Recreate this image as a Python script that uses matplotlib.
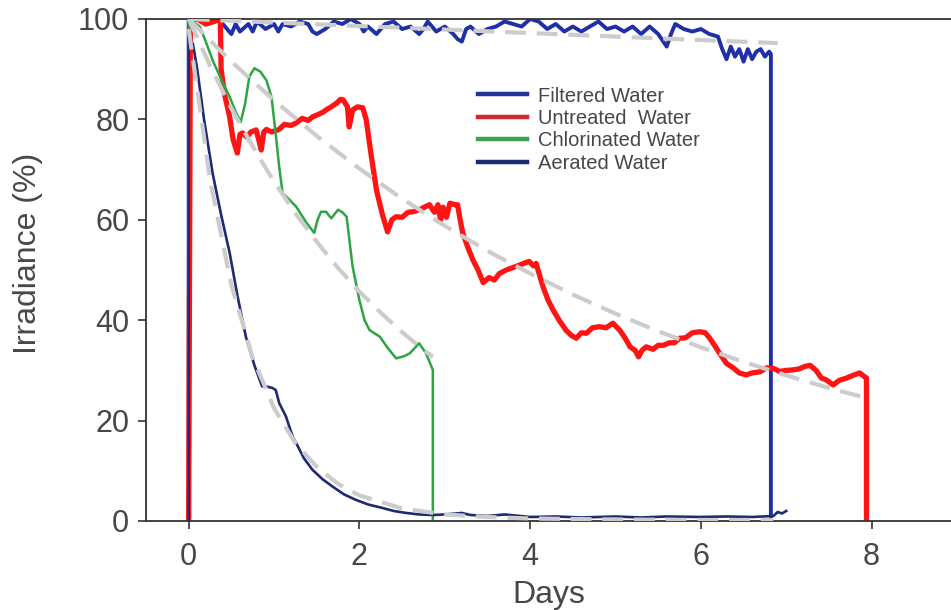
"""Irradiance decay over time for four water treatments, with fitted curves."""
import matplotlib
matplotlib.use("Agg")
import matplotlib.pyplot as plt

# ---- measured traces (days, % irradiance) ----
filtered_days = [0, 0, 0.05, 0.2, 0.35, 0.45, 0.5, 0.55, 0.6, 0.7, 0.75, 0.8, 0.9, 1.0, 1.05,
                 1.1, 1.2, 1.3, 1.4, 1.45, 1.5, 1.6, 1.7, 1.8, 1.9, 2.0, 2.05, 2.1, 2.2,
                 2.3, 2.4, 2.5, 2.6, 2.7, 2.75, 2.8, 2.9, 3.0, 3.1, 3.15, 3.2, 3.25, 3.3,
                 3.4, 3.5, 3.6, 3.7, 3.8, 3.9, 4.0, 4.1, 4.2, 4.3, 4.4, 4.5, 4.6, 4.7,
                 4.8, 4.9, 5.0, 5.1, 5.2, 5.3, 5.4, 5.5, 5.6, 5.65, 5.7, 5.8, 5.9, 6.0,
                 6.1, 6.2, 6.25, 6.3, 6.35, 6.4, 6.45, 6.5, 6.55, 6.6, 6.65, 6.7, 6.75,
                 6.8, 6.82, 6.82]
filtered_vals = [0, 100, 100, 100, 100, 98, 97, 99, 97.5, 99, 97.5, 99.5, 98, 99, 97.5,
                 99, 98.5, 99.5, 99, 97.5, 97, 98, 99.5, 99, 100, 99, 97.5, 98.5, 97,
                 99, 99.5, 98, 98.5, 97, 98, 99.5, 97.5, 98.5, 97, 96, 95.5, 98, 98.5,
                 97, 98, 98.5, 99.5, 99, 98.5, 100, 99.5, 98, 99, 97.5, 98.5, 97.5, 98.5,
                 99.5, 98, 98.5, 97.5, 98.5, 97, 98.5, 97, 94.5, 97, 99, 98, 97.5, 98,
                 97, 96.5, 94, 92, 94.5, 92.5, 94, 91.5, 94, 92, 93.5, 94, 92.5,
                 93.5, 93, 0]

untreated_days = [0, 0.02, 0.1, 0.2, 0.3, 0.37, 0.38, 0.42, 0.48, 0.52, 0.57, 0.6, 0.63,
                  0.68, 0.73, 0.79, 0.82, 0.85, 0.88, 0.91, 0.97, 1.06, 1.12, 1.2, 1.26,
                  1.33, 1.4, 1.45, 1.52, 1.58, 1.61, 1.67, 1.73, 1.78, 1.81, 1.86, 1.88,
                  1.92, 1.98, 2.04, 2.08, 2.14, 2.2, 2.27, 2.33, 2.38, 2.43, 2.5, 2.57,
                  2.63, 2.7, 2.76, 2.82, 2.88, 2.92, 2.95, 2.98, 3.02, 3.06, 3.12, 3.15,
                  3.18, 3.21, 3.27, 3.33, 3.39, 3.45, 3.52, 3.58, 3.64, 3.72, 3.8, 3.88,
                  3.95, 3.99, 4.04, 4.07, 4.11, 4.15, 4.21, 4.27, 4.34, 4.42, 4.48, 4.54,
                  4.6, 4.66, 4.73, 4.81, 4.89, 4.97, 5.05, 5.11, 5.17, 5.23, 5.27, 5.31,
                  5.36, 5.44, 5.5, 5.56, 5.63, 5.69, 5.75, 5.82, 5.9, 5.99, 6.05, 6.1,
                  6.16, 6.22, 6.3, 6.38, 6.45, 6.53, 6.6, 6.69, 6.77, 6.85, 6.92, 7.0,
                  7.08, 7.15, 7.22, 7.28, 7.35, 7.41, 7.47, 7.55, 7.62, 7.71, 7.78, 7.86,
                  7.92, 7.94, 7.94]
untreated_vals = [0, 99.5, 100, 99, 99.5, 100, 90, 85, 80.5, 76, 73.3, 77, 77.3,
                  76.5, 77.5, 77.9, 76, 73.9, 77.5, 78, 77.5, 78, 79, 78.8, 79.3,
                  80.2, 79.8, 80.5, 81, 81.5, 81.9, 82.5, 83.2, 84, 83.9, 82.5, 78.5,
                  81.9, 82.5, 82.3, 79.9, 72.6, 65.9, 61, 57.6, 60, 60.6, 60.5, 61.5,
                  61.6, 62, 62.5, 63, 61.5, 63, 60, 62.5, 60.5, 63.3, 63, 63,
                  60, 57.4, 54.5, 52, 50, 47.5, 48.5, 48, 49.3, 50, 50.5, 51,
                  51.5, 51.7, 50.8, 51.3, 49, 46.7, 44, 42, 40, 38, 37, 36.4,
                  37.5, 37.4, 38.5, 38.7, 38.5, 39.4, 38, 36.5, 34.7, 34, 32.7, 34,
                  34.7, 34.2, 35, 35, 35.5, 35.5, 36.4, 36.5, 37.5, 37.7, 37.5, 36.5,
                  35, 33.4, 31.4, 30.5, 29.5, 29.1, 29.5, 29.7, 30.5, 30.4, 29.8, 30,
                  30.1, 30.3, 30.8, 31, 30, 28.5, 28.1, 27.1, 28, 28.5, 29, 29.5,
                  28.7, 28.5, 0]

chlorinated_days = [0, 0, 0.13, 0.2, 0.28, 0.38, 0.48, 0.55, 0.61, 0.66, 0.71, 0.77, 0.84,
                    0.91, 0.97, 1.02, 1.06, 1.1, 1.18, 1.26, 1.32, 1.38, 1.47, 1.51, 1.55,
                    1.61, 1.67, 1.75, 1.8, 1.85, 1.92, 2.0, 2.06, 2.12, 2.24, 2.33, 2.43,
                    2.52, 2.59, 2.65, 2.7, 2.78, 2.86, 2.86]
chlorinated_vals = [0, 100, 98.5, 95.5, 91.8, 88, 84.5, 81.5, 79.5, 83, 88.5, 90.2, 89.5,
                    87.8, 84.5, 77, 70.6, 65.3, 64, 62.6, 61, 59.4, 57.4, 60, 61.6,
                    61.6, 60.3, 62, 61.5, 60.6, 50.7, 44, 40, 38, 36.7, 34.5, 32.4,
                    32.8, 33.4, 34.5, 35.4, 33.4, 30.1, 0]

aerated_days = [0, 0, 0.05, 0.1, 0.18, 0.28, 0.38, 0.48, 0.57, 0.67, 0.77, 0.86, 0.91,
                0.98, 1.02, 1.06, 1.14, 1.22, 1.26, 1.35, 1.45, 1.57, 1.69, 1.82, 1.96,
                2.1, 2.27, 2.4, 2.55, 2.7, 2.86, 3.0, 3.2, 3.3, 3.5, 3.7, 4.0, 4.3,
                4.6, 5.0, 5.3, 5.6, 6.0, 6.3, 6.6, 6.85, 6.9, 6.95, 7.0]
aerated_vals = [0, 96.5, 95, 90, 80, 69.3, 61, 53.4, 45, 36.7, 31, 26.8, 26.8,
                26.5, 26.1, 23.5, 20.8, 16.7, 15.5, 12.5, 10.2, 8.3, 6.8, 5.3, 4.2,
                3.3, 2.6, 2, 1.6, 1.3, 1.2, 1.3, 1.6, 1.2, 1.0, 1.3, 0.8, 0.9,
                0.7, 0.9, 0.7, 0.9, 0.8, 0.9, 0.8, 1.0, 1.8, 1.5, 2.0]

# ---- fitted curves (grey dashed) ----
filtered_fit_days = [0, 1, 2, 3, 4, 5, 6, 6.9]
filtered_fit_vals = [100, 99.3, 98.6, 97.9, 97.2, 96.5, 95.8, 95.2]

untreated_fit_days = [0, 0.5, 1, 1.5, 2, 2.5, 3, 3.5, 4, 4.5, 5, 5.5, 6, 6.5, 7, 7.5, 7.94]
untreated_fit_vals = [100, 91.5, 83.8, 76.7, 70.2, 64.2, 58.8, 53.8, 49.3, 45.1, 41.3,
                      37.8, 34.6, 31.7, 29, 26.5, 24.5]

chlorinated_fit_days = [0, 0.25, 0.5, 0.75, 1, 1.25, 1.5, 1.75, 2, 2.25, 2.5, 2.75, 2.86]
chlorinated_fit_vals = [100, 90.7, 82.2, 74.6, 67.6, 61.3, 55.6, 50.4, 45.7, 41.5, 37.6,
                        34.1, 32.7]

aerated_fit_days = [0, 0.25, 0.5, 0.75, 1, 1.25, 1.5, 1.75, 2, 2.5, 3, 3.5, 4, 5, 6, 6.85]
aerated_fit_vals = [98, 68, 47, 32.5, 22.5, 15.5, 10.8, 7.4, 5.1, 2.5, 1.3, 0.8, 0.5,
                    0.3, 0.2, 0.2]

labels = ["Filtered Water", "Untreated  Water", "Chlorinated Water", "Aerated Water"]
colors = ["#1f2fa8", "#ff1414", "#2ea543", "#1e2a74"]
legend_colors = ["#23349a", "#d0282c", "#3aa24e", "#1e2a6e"]
line_widths = [2.8, 3.8, 1.8, 1.9]

FIT_C = "#cccccc"
TEXT_C = "#474747"

plt.rcParams["font.family"] = ["Liberation Sans", "DejaVu Sans"]

fig = plt.figure(figsize=(9.51, 6.10), dpi=100)
ax = fig.add_axes([146 / 951, 89 / 610, 805 / 951, 502 / 610])

traces = [(filtered_days, filtered_vals), (untreated_days, untreated_vals),
          (chlorinated_days, chlorinated_vals), (aerated_days, aerated_vals)]
for (d, v), col, lw, lab in zip(traces, colors, line_widths, labels):
    ax.plot(d, v, color=col, lw=lw, solid_joinstyle="round", label=lab, zorder=2)

fits = [(filtered_fit_days, filtered_fit_vals), (untreated_fit_days, untreated_fit_vals),
        (chlorinated_fit_days, chlorinated_fit_vals), (aerated_fit_days, aerated_fit_vals)]
for d, v in fits:
    ax.plot(d, v, color=FIT_C, lw=3.0, dashes=(5, 2.6), zorder=3)

ax.set_xlim(-0.5, 8.93)
ax.set_ylim(0, 100)
ax.set_xticks([0, 2, 4, 6, 8])
ax.set_yticks([0, 20, 40, 60, 80, 100])

for s in ("left", "bottom", "top"):
    ax.spines[s].set_color("#333333")
    ax.spines[s].set_linewidth(1.3)
ax.spines["right"].set_visible(False)
ax.tick_params(direction="out", length=6, width=1.2, color="#333333",
               labelsize=22, labelcolor=TEXT_C)
ax.tick_params(axis="x", pad=9)
ax.tick_params(axis="y", pad=6)

ax.set_xlabel("Days", fontsize=23, color=TEXT_C)
ax.set_ylabel("Irradiance (%)", fontsize=23, color=TEXT_C, va="center")
ax.xaxis.set_label_coords(0.5, -0.118)
ax.yaxis.set_label_coords(-0.147, 0.534)

handles = [plt.Line2D([], [], color=c, lw=3.2) for c in legend_colors]
leg = ax.legend(handles, labels, loc="upper left", bbox_to_anchor=(0.412, 0.8655),
                frameon=False, fontsize=14.5, handlelength=2.45, handletextpad=0.55,
                labelspacing=0.17, borderpad=0, borderaxespad=0)
for t in leg.get_texts():
    t.set_color(TEXT_C)

fig.savefig("out.png", dpi=100)
